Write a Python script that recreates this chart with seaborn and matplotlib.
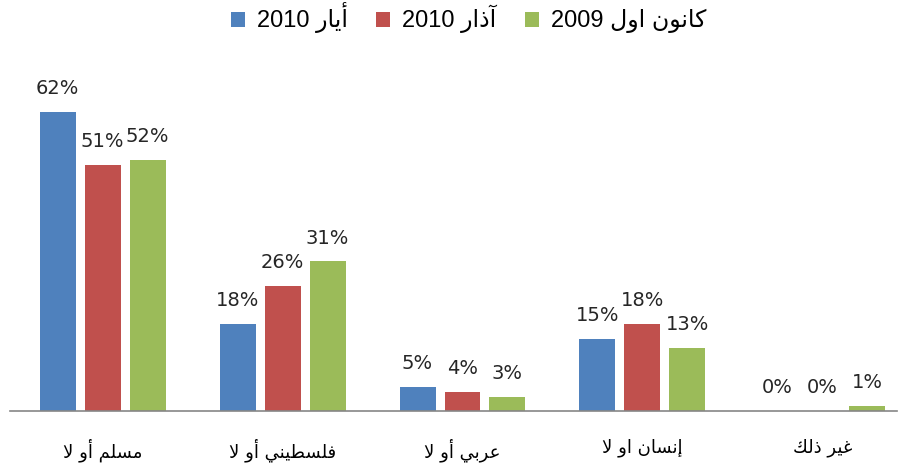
import re
import pandas as pd
import matplotlib
matplotlib.use("Agg")
import matplotlib.pyplot as plt
import seaborn as sns

# ===============================
# Data
# ===============================
categories = ["مسلم أو لا", "فلسطيني أو لا", "عربي أو لا", "إنسان او لا", "غير ذلك"]
series = ["أيار 2010", "آذار 2010", "كانون اول 2009"]
may_2010 = [62, 18, 5, 15, 0]
mar_2010 = [51, 26, 4, 18, 0]
dec_2009 = [52, 31, 3, 13, 1]
colors = ["#4F81BD", "#C0504D", "#9BBB59"]

# ===============================
# Minimal Arabic shaping (matplotlib has no bidi / joining)
# ===============================
FORMS = {
    'ا': (0xFE8D, 0xFE8E, None, None),
    'أ': (0xFE83, 0xFE84, None, None),
    'إ': (0xFE87, 0xFE88, None, None),
    'آ': (0xFE81, 0xFE82, None, None),
    'ب': (0xFE8F, 0xFE90, 0xFE91, 0xFE92),
    'ذ': (0xFEAB, 0xFEAC, None, None),
    'ر': (0xFEAD, 0xFEAE, None, None),
    'س': (0xFEB1, 0xFEB2, 0xFEB3, 0xFEB4),
    'ط': (0xFEC1, 0xFEC2, 0xFEC3, 0xFEC4),
    'ع': (0xFEC9, 0xFECA, 0xFECB, 0xFECC),
    'غ': (0xFECD, 0xFECE, 0xFECF, 0xFED0),
    'ف': (0xFED1, 0xFED2, 0xFED3, 0xFED4),
    'ك': (0xFED9, 0xFEDA, 0xFEDB, 0xFEDC),
    'ل': (0xFEDD, 0xFEDE, 0xFEDF, 0xFEE0),
    'م': (0xFEE1, 0xFEE2, 0xFEE3, 0xFEE4),
    'ن': (0xFEE5, 0xFEE6, 0xFEE7, 0xFEE8),
    'و': (0xFEED, 0xFEEE, None, None),
    'ي': (0xFEF1, 0xFEF2, 0xFEF3, 0xFEF4),
}
LAM_ALEF = {'ا': (0xFEFB, 0xFEFC), 'أ': (0xFEF7, 0xFEF8),
            'إ': (0xFEF9, 0xFEFA), 'آ': (0xFEF5, 0xFEF6)}


def shape(text):
    tokens = []
    i = 0
    while i < len(text):
        c = text[i]
        if c == 'ل' and i + 1 < len(text) and text[i + 1] in LAM_ALEF:
            tokens.append(('LA', text[i + 1]))
            i += 2
        else:
            tokens.append(c)
            i += 1

    def joins_next(t):
        return not isinstance(t, tuple) and t in FORMS and FORMS[t][2] is not None

    def joins_prev(t):
        return isinstance(t, tuple) or t in FORMS

    out = []
    for k, t in enumerate(tokens):
        prev = tokens[k - 1] if k > 0 else None
        nxt = tokens[k + 1] if k + 1 < len(tokens) else None
        p = prev is not None and joins_next(prev) and joins_prev(t)
        if isinstance(t, tuple):
            iso, fin = LAM_ALEF[t[1]]
            out.append(chr(fin if p else iso))
            continue
        if t not in FORMS:
            out.append(t)
            continue
        n = nxt is not None and joins_next(t) and joins_prev(nxt)
        iso, fin, ini, med = FORMS[t]
        if p and n:
            out.append(chr(med))
        elif p:
            out.append(chr(fin))
        elif n:
            out.append(chr(ini))
        else:
            out.append(chr(iso))
    s = ''.join(out)[::-1]
    s = re.sub(r'[0-9%]+', lambda m: m.group(0)[::-1], s)
    return s


# ===============================
# Build table
# ===============================
df = pd.DataFrame({
    "category": categories * 3,
    "series": [series[0]] * 5 + [series[1]] * 5 + [series[2]] * 5,
    "value": may_2010 + mar_2010 + dec_2009,
})

sns.set_style("white")
plt.rcParams['font.family'] = ['DejaVu Sans']

fig = plt.figure(figsize=(9.01, 4.70), dpi=100)
ax = fig.add_axes([10 / 901, 59 / 470, 887 / 901, 337.6 / 470])

sns.barplot(
    data=df, x="category", y="value", hue="series",
    palette=colors, width=0.75, gap=0.2, saturation=1,
    linewidth=0, ax=ax, errorbar=None
)

ax.set_ylim(0, 70)
ax.set_xlim(-0.514, 4.414)

for cont in ax.containers:
    ax.bar_label(cont, labels=[f"{int(v)}%" for v in cont.datavalues],
                 padding=10, fontsize=14, color="#262626")

ax.set_xticks(range(len(categories)))
ax.set_xticklabels([shape(c) for c in categories], fontsize=13, color="black")
ax.tick_params(axis="x", length=0, pad=20)
ax.set_yticks([])
ax.set_xlabel("")
ax.set_ylabel("")

for side in ["top", "left", "right"]:
    ax.spines[side].set_visible(False)
ax.spines["bottom"].set_color("#868686")
ax.spines["bottom"].set_linewidth(1.2)

handles, labels = ax.get_legend_handles_labels()
leg = ax.legend(
    handles, [shape(l) for l in labels],
    loc="center", bbox_to_anchor=(0.52, 0.962), bbox_transform=fig.transFigure,
    ncol=3, frameon=False, labelcolor="black",
    prop={"family": ["Liberation Sans", "DejaVu Sans"], "size": 17},
    handlelength=0.6, handleheight=0.6, handletextpad=0.5, columnspacing=1.2
)

fig.savefig("out.png", dpi=100)
